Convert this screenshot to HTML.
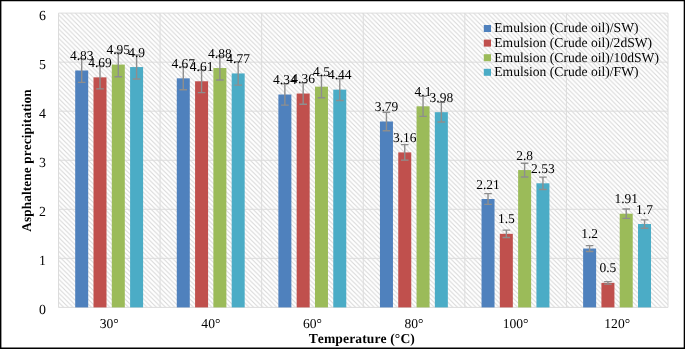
<!DOCTYPE html>
<html><head><meta charset="utf-8"><title>Chart</title>
<style>html,body{margin:0;padding:0;background:#fff;}svg{display:block}text{font-family:"Liberation Serif",serif;fill:#000;text-rendering:geometricPrecision;font-kerning:none}</style></head>
<body>
<svg width="685" height="349" viewBox="0 0 685 349">
<defs><pattern id="h" width="4.632" height="4.632" patternUnits="userSpaceOnUse" patternTransform="translate(1.98,0)"><path d="M-1,-1 L5.632,5.632 M-1,3.632 L1,5.632 M3.632,-1 L5.632,1" stroke="#d7d7d7" stroke-width="1.05" fill="none"/></pattern></defs>
<rect x="0" y="0" width="685" height="349" fill="#fff"/>
<rect x="58.5" y="13.1" width="609.5" height="294.29999999999995" fill="url(#h)"/>
<line x1="58.5" x2="668.0" y1="13.10" y2="13.10" stroke="#dcdcdc" stroke-width="1"/>
<line x1="58.5" x2="668.0" y1="62.15" y2="62.15" stroke="#dcdcdc" stroke-width="1"/>
<line x1="58.5" x2="668.0" y1="111.20" y2="111.20" stroke="#dcdcdc" stroke-width="1"/>
<line x1="58.5" x2="668.0" y1="160.25" y2="160.25" stroke="#dcdcdc" stroke-width="1"/>
<line x1="58.5" x2="668.0" y1="209.30" y2="209.30" stroke="#dcdcdc" stroke-width="1"/>
<line x1="58.5" x2="668.0" y1="258.35" y2="258.35" stroke="#dcdcdc" stroke-width="1"/>
<line x1="58.5" x2="668.0" y1="307.40" y2="307.40" stroke="#dcdcdc" stroke-width="1"/>
<line y1="13.1" y2="307.4" x1="58.50" x2="58.50" stroke="#dcdcdc" stroke-width="1"/>
<line y1="13.1" y2="307.4" x1="160.08" x2="160.08" stroke="#dcdcdc" stroke-width="1"/>
<line y1="13.1" y2="307.4" x1="261.67" x2="261.67" stroke="#dcdcdc" stroke-width="1"/>
<line y1="13.1" y2="307.4" x1="363.25" x2="363.25" stroke="#dcdcdc" stroke-width="1"/>
<line y1="13.1" y2="307.4" x1="464.83" x2="464.83" stroke="#dcdcdc" stroke-width="1"/>
<line y1="13.1" y2="307.4" x1="566.42" x2="566.42" stroke="#dcdcdc" stroke-width="1"/>
<line y1="13.1" y2="307.4" x1="668.00" x2="668.00" stroke="#dcdcdc" stroke-width="1"/>
<rect x="75.20" y="70.49" width="13.0" height="236.91" fill="#4f81bd"/>
<rect x="93.50" y="77.36" width="13.0" height="230.04" fill="#c0504d"/>
<rect x="111.80" y="64.60" width="13.0" height="242.80" fill="#9bbb59"/>
<rect x="130.10" y="67.06" width="13.0" height="240.34" fill="#4bacc6"/>
<rect x="176.78" y="78.34" width="13.0" height="229.06" fill="#4f81bd"/>
<rect x="195.08" y="81.28" width="13.0" height="226.12" fill="#c0504d"/>
<rect x="213.38" y="68.04" width="13.0" height="239.36" fill="#9bbb59"/>
<rect x="231.68" y="73.43" width="13.0" height="233.97" fill="#4bacc6"/>
<rect x="278.37" y="94.52" width="13.0" height="212.88" fill="#4f81bd"/>
<rect x="296.67" y="93.54" width="13.0" height="213.86" fill="#c0504d"/>
<rect x="314.97" y="86.68" width="13.0" height="220.72" fill="#9bbb59"/>
<rect x="333.27" y="89.62" width="13.0" height="217.78" fill="#4bacc6"/>
<rect x="379.95" y="121.50" width="13.0" height="185.90" fill="#4f81bd"/>
<rect x="398.25" y="152.40" width="13.0" height="155.00" fill="#c0504d"/>
<rect x="416.55" y="106.30" width="13.0" height="201.10" fill="#9bbb59"/>
<rect x="434.85" y="112.18" width="13.0" height="195.22" fill="#4bacc6"/>
<rect x="481.53" y="199.00" width="13.0" height="108.40" fill="#4f81bd"/>
<rect x="499.83" y="233.82" width="13.0" height="73.57" fill="#c0504d"/>
<rect x="518.13" y="170.06" width="13.0" height="137.34" fill="#9bbb59"/>
<rect x="536.43" y="183.30" width="13.0" height="124.10" fill="#4bacc6"/>
<rect x="583.12" y="248.54" width="13.0" height="58.86" fill="#4f81bd"/>
<rect x="601.42" y="282.88" width="13.0" height="24.52" fill="#c0504d"/>
<rect x="619.72" y="213.71" width="13.0" height="93.69" fill="#9bbb59"/>
<rect x="638.02" y="224.01" width="13.0" height="83.38" fill="#4bacc6"/>
<path d="M81.70,58.64 V82.33 M77.90,58.64 h7.6 M77.90,82.33 h7.6" stroke="#8e8e8e" stroke-width="1.4" fill="none"/>
<path d="M100.00,65.85 V88.86 M96.20,65.85 h7.6 M96.20,88.86 h7.6" stroke="#8e8e8e" stroke-width="1.4" fill="none"/>
<path d="M118.30,52.46 V76.74 M114.50,52.46 h7.6 M114.50,76.74 h7.6" stroke="#8e8e8e" stroke-width="1.4" fill="none"/>
<path d="M136.60,55.04 V79.07 M132.80,55.04 h7.6 M132.80,79.07 h7.6" stroke="#8e8e8e" stroke-width="1.4" fill="none"/>
<path d="M183.28,66.88 V89.79 M179.48,66.88 h7.6 M179.48,89.79 h7.6" stroke="#8e8e8e" stroke-width="1.4" fill="none"/>
<path d="M201.58,69.97 V92.59 M197.78,69.97 h7.6 M197.78,92.59 h7.6" stroke="#8e8e8e" stroke-width="1.4" fill="none"/>
<path d="M219.88,56.07 V80.00 M216.08,56.07 h7.6 M216.08,80.00 h7.6" stroke="#8e8e8e" stroke-width="1.4" fill="none"/>
<path d="M238.18,61.73 V85.13 M234.38,61.73 h7.6 M234.38,85.13 h7.6" stroke="#8e8e8e" stroke-width="1.4" fill="none"/>
<path d="M284.87,83.88 V105.17 M281.07,83.88 h7.6 M281.07,105.17 h7.6" stroke="#8e8e8e" stroke-width="1.4" fill="none"/>
<path d="M303.17,82.85 V104.23 M299.37,82.85 h7.6 M299.37,104.23 h7.6" stroke="#8e8e8e" stroke-width="1.4" fill="none"/>
<path d="M321.47,75.64 V97.71 M317.67,75.64 h7.6 M317.67,97.71 h7.6" stroke="#8e8e8e" stroke-width="1.4" fill="none"/>
<path d="M339.77,78.73 V100.51 M335.97,78.73 h7.6 M335.97,100.51 h7.6" stroke="#8e8e8e" stroke-width="1.4" fill="none"/>
<path d="M386.45,112.21 V130.80 M382.65,112.21 h7.6 M382.65,130.80 h7.6" stroke="#8e8e8e" stroke-width="1.4" fill="none"/>
<path d="M404.75,144.65 V160.15 M400.95,144.65 h7.6 M400.95,160.15 h7.6" stroke="#8e8e8e" stroke-width="1.4" fill="none"/>
<path d="M423.05,96.24 V116.35 M419.25,96.24 h7.6 M419.25,116.35 h7.6" stroke="#8e8e8e" stroke-width="1.4" fill="none"/>
<path d="M441.35,102.42 V121.94 M437.55,102.42 h7.6 M437.55,121.94 h7.6" stroke="#8e8e8e" stroke-width="1.4" fill="none"/>
<path d="M488.03,193.58 V204.42 M484.23,193.58 h7.6 M484.23,204.42 h7.6" stroke="#8e8e8e" stroke-width="1.4" fill="none"/>
<path d="M506.33,230.15 V237.50 M502.53,230.15 h7.6 M502.53,237.50 h7.6" stroke="#8e8e8e" stroke-width="1.4" fill="none"/>
<path d="M524.63,163.19 V176.93 M520.83,163.19 h7.6 M520.83,176.93 h7.6" stroke="#8e8e8e" stroke-width="1.4" fill="none"/>
<path d="M542.93,177.10 V189.51 M539.13,177.10 h7.6 M539.13,189.51 h7.6" stroke="#8e8e8e" stroke-width="1.4" fill="none"/>
<path d="M589.62,245.60 V251.48 M585.82,245.60 h7.6 M585.82,251.48 h7.6" stroke="#8e8e8e" stroke-width="1.4" fill="none"/>
<path d="M607.92,281.65 V284.10 M604.12,281.65 h7.6 M604.12,284.10 h7.6" stroke="#8e8e8e" stroke-width="1.4" fill="none"/>
<path d="M626.22,209.03 V218.40 M622.42,209.03 h7.6 M622.42,218.40 h7.6" stroke="#8e8e8e" stroke-width="1.4" fill="none"/>
<path d="M644.52,219.85 V228.18 M640.72,219.85 h7.6 M640.72,228.18 h7.6" stroke="#8e8e8e" stroke-width="1.4" fill="none"/>
<g opacity="0.999">
<text transform="translate(81.70,60.09) skewX(0.06)" font-size="13.5" text-anchor="middle">4.83</text>
<text transform="translate(100.00,66.96) skewX(0.06)" font-size="13.5" text-anchor="middle">4.69</text>
<text transform="translate(118.30,54.20) skewX(0.06)" font-size="13.5" text-anchor="middle">4.95</text>
<text transform="translate(136.60,56.66) skewX(0.06)" font-size="13.5" text-anchor="middle">4.9</text>
<text transform="translate(183.28,67.94) skewX(0.06)" font-size="13.5" text-anchor="middle">4.67</text>
<text transform="translate(201.58,70.88) skewX(0.06)" font-size="13.5" text-anchor="middle">4.61</text>
<text transform="translate(219.88,57.64) skewX(0.06)" font-size="13.5" text-anchor="middle">4.88</text>
<text transform="translate(238.18,63.03) skewX(0.06)" font-size="13.5" text-anchor="middle">4.77</text>
<text transform="translate(284.87,84.12) skewX(0.06)" font-size="13.5" text-anchor="middle">4.34</text>
<text transform="translate(303.17,83.14) skewX(0.06)" font-size="13.5" text-anchor="middle">4.36</text>
<text transform="translate(321.47,76.28) skewX(0.06)" font-size="13.5" text-anchor="middle">4.5</text>
<text transform="translate(339.77,79.22) skewX(0.06)" font-size="13.5" text-anchor="middle">4.44</text>
<text transform="translate(386.45,111.10) skewX(0.06)" font-size="13.5" text-anchor="middle">3.79</text>
<text transform="translate(404.75,142.00) skewX(0.06)" font-size="13.5" text-anchor="middle">3.16</text>
<text transform="translate(423.05,95.90) skewX(0.06)" font-size="13.5" text-anchor="middle">4.1</text>
<text transform="translate(441.35,101.78) skewX(0.06)" font-size="13.5" text-anchor="middle">3.98</text>
<text transform="translate(488.03,188.60) skewX(0.06)" font-size="13.5" text-anchor="middle">2.21</text>
<text transform="translate(506.33,223.42) skewX(0.06)" font-size="13.5" text-anchor="middle">1.5</text>
<text transform="translate(524.63,159.66) skewX(0.06)" font-size="13.5" text-anchor="middle">2.8</text>
<text transform="translate(542.93,172.90) skewX(0.06)" font-size="13.5" text-anchor="middle">2.53</text>
<text transform="translate(589.62,238.14) skewX(0.06)" font-size="13.5" text-anchor="middle">1.2</text>
<text transform="translate(607.92,272.48) skewX(0.06)" font-size="13.5" text-anchor="middle">0.5</text>
<text transform="translate(626.22,203.31) skewX(0.06)" font-size="13.5" text-anchor="middle">1.91</text>
<text transform="translate(644.52,213.61) skewX(0.06)" font-size="13.5" text-anchor="middle">1.7</text>
<text transform="translate(45.95,313.95) skewX(0.06)" font-size="13.9" text-anchor="end">0</text>
<text transform="translate(45.95,264.90) skewX(0.06)" font-size="13.9" text-anchor="end">1</text>
<text transform="translate(45.95,215.85) skewX(0.06)" font-size="13.9" text-anchor="end">2</text>
<text transform="translate(45.95,166.80) skewX(0.06)" font-size="13.9" text-anchor="end">3</text>
<text transform="translate(45.95,117.75) skewX(0.06)" font-size="13.9" text-anchor="end">4</text>
<text transform="translate(45.95,68.70) skewX(0.06)" font-size="13.9" text-anchor="end">5</text>
<text transform="translate(45.95,19.65) skewX(0.06)" font-size="13.9" text-anchor="end">6</text>
<text transform="translate(109.29,328.30) skewX(0.06)" font-size="13.6" text-anchor="middle">30°</text>
<text transform="translate(210.88,328.30) skewX(0.06)" font-size="13.6" text-anchor="middle">40°</text>
<text transform="translate(312.46,328.30) skewX(0.06)" font-size="13.6" text-anchor="middle">60°</text>
<text transform="translate(414.04,328.30) skewX(0.06)" font-size="13.6" text-anchor="middle">80°</text>
<text transform="translate(515.62,328.30) skewX(0.06)" font-size="13.6" text-anchor="middle">100°</text>
<text transform="translate(617.21,328.30) skewX(0.06)" font-size="13.6" text-anchor="middle">120°</text>
<text transform="translate(361.80,342.90) skewX(0.06)" font-size="13.6" text-anchor="middle" font-weight="bold" letter-spacing="0.1">Temperature (°C)</text>
<text transform="translate(31.40,160.50) rotate(-90) skewX(0.06)" font-size="13.3" text-anchor="middle" font-weight="bold" letter-spacing="0.1">Asphaltene precipitation</text>
<rect x="483.8" y="25.00" width="7.2" height="7" fill="#4f81bd"/>
<text transform="translate(494.30,32.40) skewX(0.06)" font-size="13.6">Emulsion (Crude oil)/SW)</text>
<rect x="483.8" y="39.60" width="7.2" height="7" fill="#c0504d"/>
<text transform="translate(494.30,47.00) skewX(0.06)" font-size="13.6">Emulsion (Crude oil)/2dSW)</text>
<rect x="483.8" y="54.20" width="7.2" height="7" fill="#9bbb59"/>
<text transform="translate(494.30,61.60) skewX(0.06)" font-size="13.6">Emulsion (Crude oil)/10dSW)</text>
<rect x="483.8" y="68.80" width="7.2" height="7" fill="#4bacc6"/>
<text transform="translate(494.30,76.20) skewX(0.06)" font-size="13.6">Emulsion (Crude oil)/FW)</text>
</g>
<path d="M0,0 H685 V349 H0 Z M1.4,1.3 V347.5 H683.7 V1.3 Z" fill="#000" fill-rule="evenodd"/>
</svg></body></html>
